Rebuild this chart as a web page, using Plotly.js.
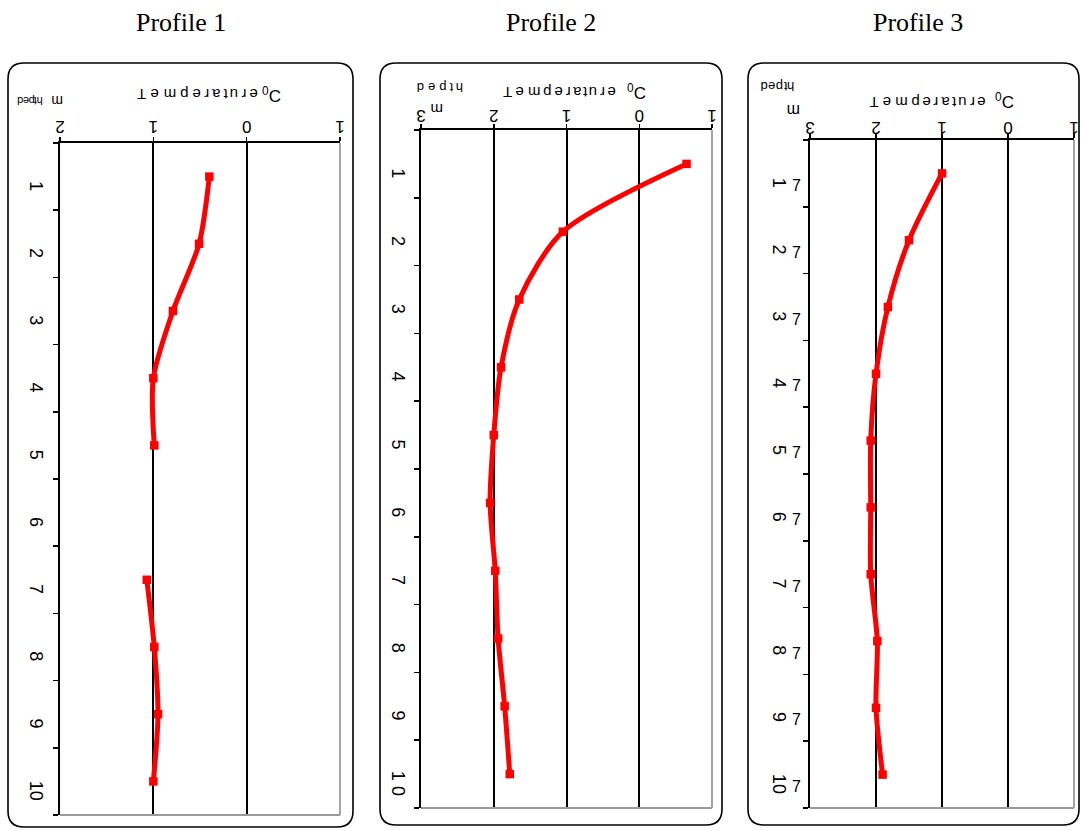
<!DOCTYPE html>
<html>
<head>
<meta charset="utf-8">
<script src="https://cdn.plot.ly/plotly-3.0.1.min.js"></script>
<style>html,body{margin:0;padding:0;background:#fff;}#chart{width:1082px;height:831px;}</style>
</head>
<body>
<div id="chart"></div>
<script>
// ---------------- data ----------------
const depthCats = ["1","2","3","4","5","6","7","8","9","10"];
const depthTickText1 = ["1","2","3","4","5","6","7","8","9","10"];
const depthTickText2 = ["1","2","3","4","5","6","7","8","9","1 0"];
const depthTickText3 = ["1","2","3","4","5","6","7","8","9","10"];
const depthSuffix3 = "7";
const temp1 = [-0.40,-0.51,-0.79,-1.00,-0.99,null,-1.07,-0.99,-0.95,-1.00];
const temp2 = [0.65,-1.05,-1.65,-1.90,-2.00,-2.05,-1.98,-1.94,-1.85,-1.78];
const temp3 = [-1.00,-1.50,-1.82,-2.00,-2.08,-2.08,-2.08,-1.98,-2.00,-1.90];
const tempTickVals1 = [-2,-1,0,1];
const tempTickText1 = ["2","1","0","1"];
const tempTickVals23 = [-3,-2,-1,0,1];
const tempTickText23 = ["3","2","1","0","1"];
const profileTitles = ["Profile 1","Profile 2","Profile 3"];
const tempLabel = "Temperature";
const tempUnit = "<sup>0</sup>C";
const depthLabel = "depth";
const depthUnit = "m";

// ---------------- layout helpers ----------------
const W = 1082, H = 831;
const X = v => v / W;
const Y = v => 1 - v / H;

const panels = [
  {plot:{l:60,r:340,t:143,b:815}, box:{l:8,r:353,t:63,b:827}, range:[-2,1], tv:tempTickVals1, tt:tempTickText1, yt:depthTickText1, data:temp1, standoff:6, xso:-8},
  {plot:{l:421,r:712,t:130,b:808}, box:{l:380,r:722,t:63,b:825}, range:[-3,1], tv:tempTickVals23, tt:tempTickText23, yt:depthTickText2, data:temp2, standoff:5, xso:-10},
  {plot:{l:810,r:1074,t:140,b:808}, box:{l:748,r:1079,t:63,b:825}, range:[-3,1], tv:tempTickVals23, tt:tempTickText23, yt:depthTickText3, data:temp3, standoff:13, xso:-12}
];

const FONT = '"Liberation Sans", Arial, sans-serif';
const red = '#ff0000';

const traces = [];
const layout = {
  width: W, height: H,
  margin: {l:0, r:0, t:0, b:0, pad:0},
  paper_bgcolor: '#ffffff', plot_bgcolor: '#ffffff',
  showlegend: false,
  font: {family: FONT, color: '#000', size: 15},
  shapes: [], annotations: []
};

function roundRect(l,t,r,b,rad){
  const x=v=>X(v).toFixed(5), y=v=>Y(v).toFixed(5);
  return `M${x(l+rad)},${y(t)} L${x(r-rad)},${y(t)} Q${x(r)},${y(t)} ${x(r)},${y(t+rad)} `+
         `L${x(r)},${y(b-rad)} Q${x(r)},${y(b)} ${x(r-rad)},${y(b)} `+
         `L${x(l+rad)},${y(b)} Q${x(l)},${y(b)} ${x(l)},${y(b-rad)} `+
         `L${x(l)},${y(t+rad)} Q${x(l)},${y(t)} ${x(l+rad)},${y(t)} Z`;
}

const cv = document.createElement('canvas').getContext('2d');
function rotatedWord(word, x0, x1, yc, size){
  cv.font = size + 'px "Liberation Sans"';
  const ws = [...word].map(c => cv.measureText(c).width);
  const tot = ws.reduce((a,b)=>a+b,0);
  const s = (x1-x0)/tot;
  let acc = 0;
  [...word].forEach((c,i)=>{
    const cx = x0 + s*(acc + ws[i]/2);
    acc += ws[i];
    layout.annotations.push({text:c, xref:'paper', yref:'paper', x:X(cx), y:Y(yc),
      xanchor:'center', yanchor:'middle', showarrow:false, textangle:180,
      font:{family:FONT, size:size, color:'#000'}});
  });
}

panels.forEach((p,i)=>{
  const n = i===0 ? '' : String(i+1);
  const xa = 'xaxis'+n, ya = 'yaxis'+n;
  layout[xa] = {
    domain:[X(p.plot.l), X(p.plot.r)], anchor:'y'+n, side:'top',
    range:p.range, tickmode:'array', tickvals:p.tv, ticktext:p.tt, tickangle:180,
    showgrid:true, gridcolor:'#000', gridwidth:2, zeroline:false,
    showline:true, linecolor:'#000', linewidth:2,
    ticks:'outside', ticklen:4, tickcolor:'#000', tickwidth:1.5,
    ticklabelstandoff:p.xso,
    tickfont:{family:FONT, size:17, color:'#000'}, fixedrange:true
  };
  layout[ya] = {
    domain:[Y(p.plot.b), Y(p.plot.t)], anchor:'x'+n, type:'category',
    categoryorder:'array', categoryarray:depthCats, range:[9.5,-0.5],
    tickmode:'array', tickvals:depthCats, ticktext:p.yt, tickson:'boundaries',
    ticks:'outside', ticklen:5, tickcolor:'#000', tickwidth:1.5,
    showline:true, linecolor:'#000', linewidth:2, showgrid:false, zeroline:false,
    tickangle:90, tickfont:{family:FONT, size:18, color:'#000'},
    ticklabelstandoff:p.standoff, ticklabelshift:-12, fixedrange:true
  };
  traces.push({
    type:'scatter', mode:'lines+markers', x:p.data, y:depthCats,
    xaxis:'x'+n, yaxis:'y'+n, connectgaps:false, cliponaxis:false,
    line:{color:red, width:5, shape:'spline', smoothing:0.8},
    marker:{symbol:'square', size:8.5, color:red}, hoverinfo:'skip'
  });
  // rounded frame
  layout.shapes.push({type:'path', xref:'paper', yref:'paper', path:roundRect(p.box.l,p.box.t,p.box.r,p.box.b,16),
    line:{color:'#000', width:1.6}, fillcolor:'rgba(0,0,0,0)', layer:'below'});
  // gray right and bottom border of plot area
  layout.shapes.push({type:'line', xref:'paper', yref:'paper', x0:X(p.plot.r), x1:X(p.plot.r), y0:Y(p.plot.t), y1:Y(p.plot.b),
    line:{color:'#9a9a9a', width:1.8}});
  layout.shapes.push({type:'line', xref:'paper', yref:'paper', x0:X(p.plot.l), x1:X(p.plot.r), y0:Y(p.plot.b), y1:Y(p.plot.b),
    line:{color:'#9a9a9a', width:1.8}});
});

// Profile titles
[181, 551, 918].forEach((cx,i)=>{
  layout.annotations.push({text:profileTitles[i], xref:'paper', yref:'paper', x:X(cx), y:Y(22),
    xanchor:'center', yanchor:'middle', showarrow:false,
    font:{family:'"Liberation Serif", "Times New Roman", serif', size:26, color:'#000'}});
});

// Temperature labels (glyphs individually upside down)
const tempPos = [
  {x0:135, x1:260, y:95, ux:271, uy:95},
  {x0:502, x1:617, y:92, ux:636, uy:92},
  {x0:868, x1:987, y:102, ux:1004, uy:101}
];
tempPos.forEach(t=>{
  rotatedWord(tempLabel, t.x0, t.x1, t.y, 15);
  layout.annotations.push({text:tempUnit, xref:'paper', yref:'paper', x:X(t.ux), y:Y(t.uy),
    xanchor:'center', yanchor:'middle', showarrow:false, font:{family:FONT, size:17, color:'#000'}});
});

// depth labels
const depthPos = [
  {x0:18, x1:42, y:101, s:11, mx:57, my:101, ms:14},
  {x0:415, x1:465, y:88, s:13, mx:437, my:109, ms:15},
  {x0:760, x1:795, y:87, s:13, mx:794, my:111, ms:16}
];
depthPos.forEach(d=>{
  rotatedWord(depthLabel, d.x0, d.x1, d.y, d.s);
  rotatedWord(depthUnit, d.mx-5, d.mx+5, d.my, d.ms);
});

// extra glyph next to profile 3 depth labels (category index positions)
depthCats.forEach((c,idx)=>{
  layout.annotations.push({text:depthSuffix3, xref:'paper', yref:'y3', x:X(796), y:idx, yshift:-12,
    xanchor:'center', yanchor:'middle', showarrow:false, font:{family:FONT, size:16, color:'#000'}});
});

Plotly.newPlot('chart', traces, layout, {staticPlot:true, displayModeBar:false});
</script>
</body>
</html>
